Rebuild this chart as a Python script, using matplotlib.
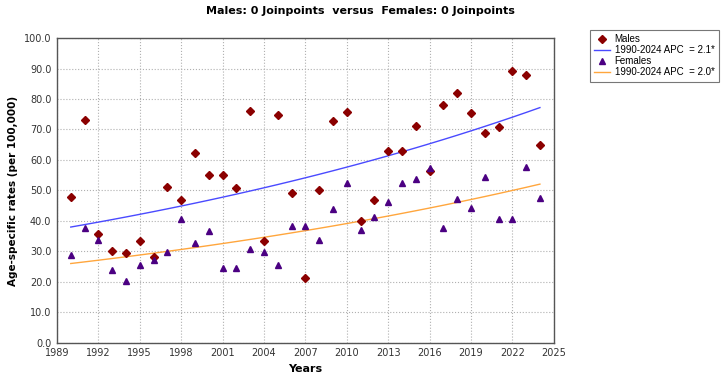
import numpy as np
import matplotlib
matplotlib.use("Agg")
import matplotlib.pyplot as plt

years = np.arange(1990, 2025)

males = [47.8, 73.2, 35.6, 30.1, 29.6, 33.3, 28.3, 51.2, 47.0, 62.3,
         55.1, 55.2, 50.8, 76.2, 33.4, 74.9, 49.3, 21.3, 50.0, 72.8,
         75.6, 40.1, 47.0, 62.8, 62.9, 71.2, 56.4, 77.9, 82.1, 75.5,
         68.7, 70.7, 89.1, 87.8, 65.0]
females = [28.7, 37.8, 33.6, 23.8, 20.4, 25.5, 27.3, 29.9, 40.5, 32.9,
           36.8, 24.6, 24.6, 30.7, 29.8, 25.6, 38.3, 38.2, 33.8, 43.8,
           52.6, 37.1, 41.3, 46.3, 52.5, 53.8, 57.4, 37.8, 47.3, 44.2,
           54.4, 40.6, 40.6, 57.7, 47.6]

# APC values as printed in the legend
apc_males = '2.1*'
apc_females = '2.0*'

x_ticks = np.arange(1989, 2026, 3)
y_ticks = np.arange(0, 101, 10)

plt.rcParams['font.family'] = ['DejaVu Sans']

# log-linear fit (0 joinpoints model)
def trend(y):
    b, a = np.polyfit(years, np.log(y), 1)
    return np.exp(a + b * years)

m_fit = trend(males)
f_fit = trend(females)

fig = plt.figure(figsize=(7.21, 3.84), dpi=100)
ax = fig.add_axes([0.079, 0.107, 0.689, 0.794])

ax.plot(years, males, 'D', color='#8b0000', markersize=3.8, label='Males', zorder=3)
ax.plot(years, m_fit, color='#4a4aff', lw=1, label='1990-2024 APC  = ' + apc_males)
ax.plot(years, females, '^', color='#4b0082', markersize=5, label='Females', zorder=3)
ax.plot(years, f_fit, color='#ffa63d', lw=1, label='1990-2024 APC  = ' + apc_females)

ax.set_xlim(1989, 2025)
ax.set_ylim(0, 100)
ax.set_xticks(x_ticks)
ax.set_yticks(y_ticks)
ax.set_yticklabels(['%.1f' % v for v in y_ticks])
ax.tick_params(labelsize=7, length=0, pad=4, colors='#333333')
ax.grid(True, color='#b0b0b0', linestyle=':', linewidth=0.8)
for s in ax.spines.values():
    s.set_color('#555555')
    s.set_linewidth(1)

ax.set_xlabel('Years', fontsize=8, fontweight='bold')
ax.set_ylabel('Age-specific rates (per 100,000)', fontsize=7.5, fontweight='bold')
fig.suptitle('Males: 0 Joinpoints  versus  Females: 0 Joinpoints', fontsize=8,
             fontweight='bold', x=0.5, y=0.985)

leg = fig.legend(loc='upper left', bbox_to_anchor=(0.818, 0.922),
                 prop={'family': ['Liberation Sans Narrow', 'Liberation Sans'], 'size': 7},
                 frameon=True, fancybox=False, edgecolor='#555555',
                 handlelength=1.6, handletextpad=0.5, labelspacing=0.1, borderpad=0.45,
                 borderaxespad=0)
leg.get_frame().set_linewidth(0.8)

fig.savefig('out.png', dpi=100)
